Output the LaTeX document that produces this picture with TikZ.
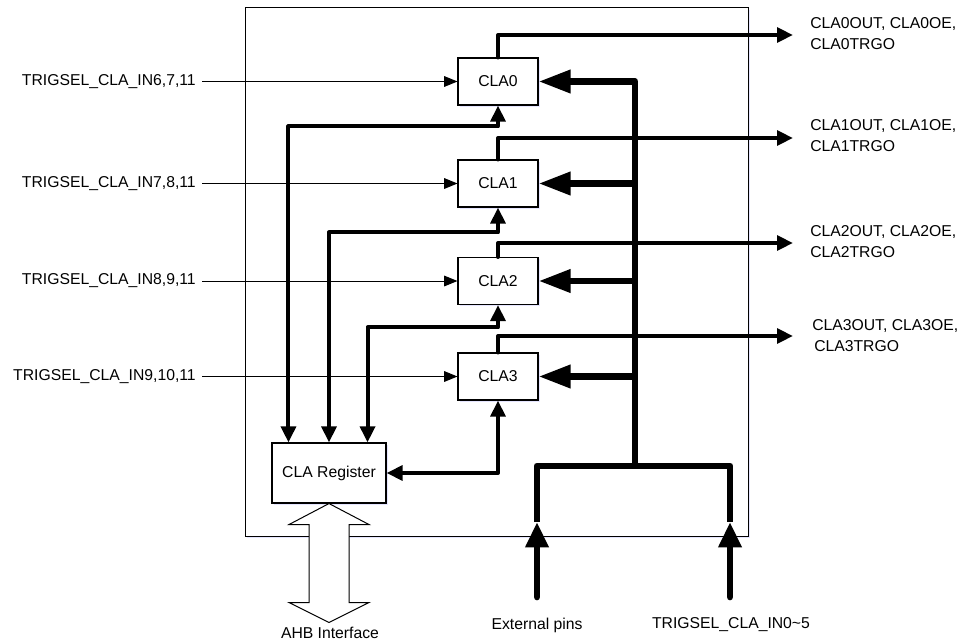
\documentclass[tikz,border=0pt]{standalone}
\usepackage{fontspec}
\setmainfont{Liberation Sans}
\usetikzlibrary{arrows.meta,shadows}
\begin{document}
\begin{tikzpicture}[x=0.75pt,y=-0.75pt,
  font=\fontsize{11.8}{15.75}\selectfont,
  shd/.style={drop shadow={shadow xshift=1.2pt,shadow yshift=-1.2pt,fill=blue!10,opacity=1}},
  clabox/.style={draw,line width=0.8pt,fill=white,shd,minimum width=60pt,minimum height=35.25pt,inner sep=0pt},
  regbox/.style={draw,line width=0.8pt,fill=white,shd,minimum width=85.5pt,minimum height=45pt,inner sep=0pt},
  lab/.style={inner sep=0pt},
  thinarrow/.style={line width=0.75pt,-{Triangle[length=10pt,width=8pt]}},
  outarrow/.style={line width=3pt,line cap=round,line join=round,-{Triangle[length=12pt,width=11pt]}},
  fbarrow/.style={line width=3pt,line join=round,{Triangle[length=12pt,width=11pt]}-{Triangle[length=12pt,width=11pt]}},
  busline/.style={line width=5pt,line join=round},
  busarrow/.style={busline,-{Triangle[length=24pt,width=16.5pt]}},
  busup/.style={busline,line cap=round,-{Triangle[length=19pt,width=16.5pt]}},
  hollow/.style={draw,line width=0.75pt,fill=white,line join=miter}]
\useasboundingbox (0,0) rectangle (962,642);

% outer block
\draw[line width=0.75pt,fill=white,shd] (245,8) rectangle (748,536);

% CLA blocks and register
\node[clabox] (cla0) at (498,81.5) {CLA0};
\node[clabox] (cla1) at (498,183.5) {CLA1};
\node[clabox] (cla2) at (498,281) {CLA2};
\node[clabox] (cla3) at (498,376.5) {CLA3};
\node[regbox] (reg) at (329,473) {CLA Register};

% left trigger inputs
\node[lab,anchor=east] (in0) at (196,81.5) {TRIGSEL\_CLA\_IN6,7,11};
\node[lab,anchor=east] (in1) at (196,183.5) {TRIGSEL\_CLA\_IN7,8,11};
\node[lab,anchor=east] (in2) at (196,281) {TRIGSEL\_CLA\_IN8,9,11};
\node[lab,anchor=east] (in3) at (196,376.5) {TRIGSEL\_CLA\_IN9,10,11};
\foreach \i in {0,1,2,3}
  \draw[thinarrow] ([xshift=4.5pt]in\i.east) -- (cla\i.west);

% outputs
\node[lab,anchor=west,align=left] (out0) at (810,34) {CLA0OUT, CLA0OE,\\CLA0TRGO};
\node[lab,anchor=west,align=left] (out1) at (810,136) {CLA1OUT, CLA1OE,\\CLA1TRGO};
\node[lab,anchor=west,align=left] (out2) at (810,242) {CLA2OUT, CLA2OE,\\CLA2TRGO};
\node[lab,anchor=west,align=left] (out3) at (812,336) {CLA3OUT, CLA3OE,\\\hspace{1.5pt}CLA3TRGO};
\coordinate (o0) at (793,35);
\coordinate (o1) at (793,138);
\coordinate (o2) at (793,243);
\coordinate (o3) at (793,336);
\foreach \i in {0,1,2,3}
  \draw[outarrow] (cla\i.north) |- (o\i);

% register feedback links
\draw[fbarrow] ([xshift=12.75pt]reg.north west) -- ++(0,-316) -| (cla0.south);
\draw[fbarrow] (reg.north) -- ++(0,-210) -| (cla1.south);
\draw[fbarrow] ([xshift=-14.25pt]reg.north east) -- ++(0,-115) -| (cla2.south);
\draw[fbarrow] (reg.east) -| (cla3.south);

% trigger bus
\coordinate (bb) at (635,466);
\coordinate (bl) at (537,466);
\coordinate (br) at (730,466);
\coordinate (ext) at (537,597);
\coordinate (trg) at (730,597);
\coordinate (extm) at (537,522);
\coordinate (trgm) at (730,522);
\draw[busarrow] (bb) |- (cla0.east);
\draw[busarrow] (bb |- cla1.east) -- (cla1.east);
\draw[busarrow] (bb |- cla2.east) -- (cla2.east);
\draw[busarrow] (bb |- cla3.east) -- (cla3.east);
\draw[busline] (extm) -- (bl) -- (br) -- (trgm);
\draw[busup] (ext) -- (extm);
\draw[busup] (trg) -- (trgm);

% bottom labels
\node[lab] (extlab) at (537,625) {External pins};
\node[lab] (trglab) at (731,625) {TRIGSEL\_CLA\_IN0\textasciitilde5};

% AHB interface double arrow
\draw[hollow] (reg.south) -- ++(40,21) -- ++(-20,0) -- ++(0,78) -- ++(20,0) -- ++(-40,20)
  -- ++(-40,-20) -- ++(20,0) -- ++(0,-78) -- ++(-20,0) -- cycle;
\node[lab] (ahb) at (330,633) {AHB Interface};
\end{tikzpicture}
\end{document}
